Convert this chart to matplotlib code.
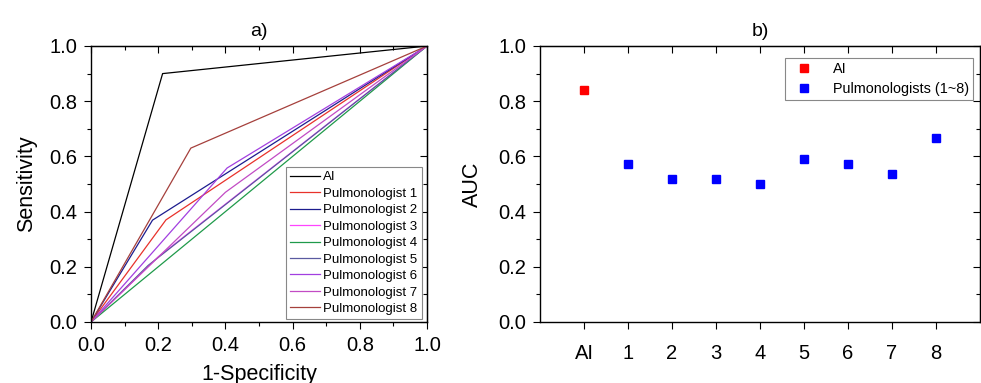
import matplotlib
matplotlib.use('Agg')
import matplotlib.pyplot as plt
from matplotlib.ticker import MultipleLocator, NullLocator

plt.rcParams['font.family'] = ['Liberation Sans', 'DejaVu Sans']

# ROC operating points (1-specificity, sensitivity), one per reader
readers = ['AI', 'Pulmonologist 1', 'Pulmonologist 2', 'Pulmonologist 3', 'Pulmonologist 4',
           'Pulmonologist 5', 'Pulmonologist 6', 'Pulmonologist 7', 'Pulmonologist 8']
fpr = [0.213, 0.223, 0.183, 0.20, 0.50, 0.17, 0.405, 0.40, 0.297]
tpr = [0.900, 0.370, 0.369, 0.236, 0.50, 0.205, 0.558, 0.47, 0.630]
line_colors = ['#000000', '#e8322b', '#1c1c8e', '#ff45ff', '#1f9a4a',
               '#5a5aa0', '#a23fe0', '#c24bc4', '#a5403c']

# AUC values
auc_labels = ['AI', '1', '2', '3', '4', '5', '6', '7', '8']
auc_ai = [0.842]
auc_pulm = [0.573, 0.518, 0.518, 0.500, 0.592, 0.573, 0.536, 0.665]

fig = plt.figure(figsize=(9.81, 3.83), dpi=100)
ax1 = fig.add_axes([0.0928, 0.1593, 0.3425, 0.7206])
ax2 = fig.add_axes([0.5505, 0.1593, 0.4485, 0.7206])

for name, fx, ty, c in zip(readers, fpr, tpr, line_colors):
    ax1.plot([0, fx, 1], [0, ty, 1], color=c, lw=0.9, label=name)

ax1.set_xlim(0, 1)
ax1.set_ylim(0, 1)
ax1.xaxis.set_major_locator(MultipleLocator(0.2))
ax1.xaxis.set_minor_locator(MultipleLocator(0.1))
ax1.yaxis.set_major_locator(MultipleLocator(0.2))
ax1.yaxis.set_minor_locator(MultipleLocator(0.1))
ax1.set_xlabel('1-Specificity', fontsize=15.5)
ax1.xaxis.set_label_coords(0.5, -0.152)
ax1.set_ylabel('Sensitivity', fontsize=15.5)
ax1.yaxis.set_label_coords(-0.161, 0.5)
ax1.set_title('a)', fontsize=14, pad=7)
leg1 = ax1.legend(loc='lower right', bbox_to_anchor=(0.984, 0.011), borderaxespad=0,
                  fontsize=9.5, handlelength=2.3, handletextpad=0.25,
                  labelspacing=0.32, borderpad=0.3, fancybox=False,
                  edgecolor='#888888', framealpha=1)
leg1.get_frame().set_linewidth(0.8)

ax2.plot([0], auc_ai, 's', color='#ff0000', ms=6, label='AI')
ax2.plot(range(1, 9), auc_pulm, 's', color='#0000ff', ms=6, label='Pulmonologists (1~8)')
ax2.set_xlim(-1, 9)
ax2.set_ylim(0, 1)
ax2.set_xticks(range(9))
ax2.set_xticklabels(auc_labels)
ax2.xaxis.set_minor_locator(NullLocator())
ax2.yaxis.set_major_locator(MultipleLocator(0.2))
ax2.yaxis.set_minor_locator(MultipleLocator(0.1))
ax2.set_ylabel('AUC', fontsize=15.5)
ax2.yaxis.set_label_coords(-0.129, 0.5)
ax2.set_title('b)', fontsize=14, pad=7)
leg2 = ax2.legend(loc='upper right', bbox_to_anchor=(0.984, 0.958), borderaxespad=0,
                  fontsize=10.4, handletextpad=1.0, labelspacing=0.42,
                  borderpad=0.3, fancybox=False, edgecolor='#888888', framealpha=1)
leg2.get_frame().set_linewidth(0.8)

for ax, xminor in ((ax1, True), (ax2, False)):
    ax.tick_params(axis='both', which='major', direction='out', length=5, width=0.8,
                   labelsize=14.5)
    ax.tick_params(axis='both', which='minor', direction='out', length=3, width=0.8)
    ax.tick_params(axis='y', which='major', pad=5)
    ax.tick_params(axis='x', which='major', pad=5 if xminor else 11)
    for s in ax.spines.values():
        s.set_linewidth(1.0)
    top = ax.secondary_xaxis('top')
    top.set_xticks(ax.get_xticks())
    if xminor:
        top.xaxis.set_minor_locator(MultipleLocator(0.1))
    top.tick_params(which='both', direction='in', labeltop=False, width=0.8)
    top.tick_params(which='major', length=5)
    top.tick_params(which='minor', length=3)
    right = ax.secondary_yaxis('right')
    right.yaxis.set_major_locator(MultipleLocator(0.2))
    right.yaxis.set_minor_locator(MultipleLocator(0.1))
    right.tick_params(which='both', direction='in', labelright=False, width=0.8)
    right.tick_params(which='major', length=5)
    right.tick_params(which='minor', length=3)

fig.savefig('out.png', dpi=100)
